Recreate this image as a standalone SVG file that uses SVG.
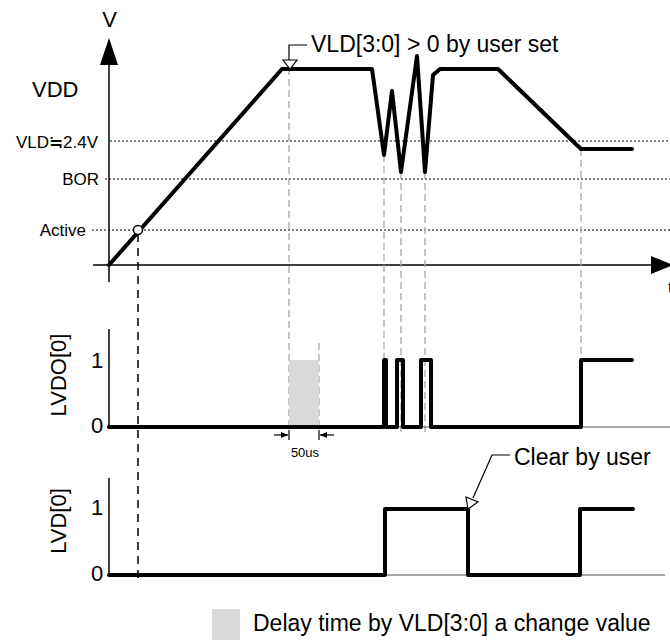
<svg xmlns="http://www.w3.org/2000/svg" width="670" height="640" viewBox="0 0 670 640">
<style>
text{font-family:"Liberation Sans",Arial,sans-serif;fill:#000}
.ax{stroke:#000;stroke-width:1.5;fill:none}
.thin{stroke:#555;stroke-width:1.2;fill:none}
.dot{stroke:#000;stroke-width:1.2;stroke-dasharray:2,2;fill:none}
.gd{stroke:#a6a6a6;stroke-width:1.3;stroke-dasharray:7,4;fill:none}
.bd{stroke:#000;stroke-width:1.5;stroke-dasharray:8,6;fill:none}
.w{stroke:#000;stroke-width:4;fill:none;stroke-linejoin:round;stroke-linecap:round}
.lbl{font-size:22px}
.big{font-size:23px}
.sm{font-size:17px}
</style>
<defs>
<marker id="sa" markerWidth="8" markerHeight="8" refX="7" refY="4" orient="auto" markerUnits="userSpaceOnUse"><path d="M0,1 L7,4 L0,7 Z" fill="#000"/></marker>
</defs>
<g id="top-axes">
<line class="ax" x1="109" y1="60" x2="109" y2="282"/>
<polygon points="109,38 100,65 118,65" fill="#000"/>
<line class="ax" x1="93" y1="265" x2="655" y2="265"/>
<polygon points="673,265 651,256 651,274" fill="#000"/>
<text class="lbl" x="109.5" y="27" text-anchor="middle">V</text>
<text x="668" y="293" font-size="17">t</text>
<text class="lbl" x="32" y="97">VDD</text>
</g>
<g id="levels">
<line class="dot" x1="110" y1="141" x2="670" y2="141"/>
<line class="dot" x1="105" y1="179" x2="670" y2="179"/>
<line class="dot" x1="92" y1="230" x2="670" y2="230"/>
<text class="sm" x="98" y="148" text-anchor="end">VLD≒2.4V</text>
<text class="sm" x="99" y="185" text-anchor="end">BOR</text>
<text class="sm" x="86" y="236" text-anchor="end">Active</text>
</g>
<g id="connectors">
<line class="bd" x1="138" y1="234" x2="138" y2="578"/>
<line class="gd" x1="289" y1="68" x2="289" y2="427"/>
<line class="gd" x1="319" y1="343" x2="319" y2="427"/>
<line class="gd" x1="384" y1="155" x2="384" y2="360"/>
<line class="gd" x1="401" y1="172" x2="401" y2="433"/>
<line class="gd" x1="425" y1="172" x2="425" y2="433"/>
<line class="gd" x1="581" y1="149" x2="581" y2="360"/>
</g>
<g id="vdd-wave">
<polyline class="w" points="109,265 282,69 372,69 384,155 392,91 401,172 417,56 425,172 433,75 440,69 498,69 581,149 632,149"/>
<circle cx="138" cy="230" r="4.5" fill="#fff" stroke="#000" stroke-width="1.5"/>
</g>
<g id="vld-set-callout">
<polyline points="289,60 289,45 307,45" fill="none" stroke="#000" stroke-width="1.2"/>
<polygon points="283,60 297,60 290,69" fill="#fff" stroke="#000" stroke-width="1.2"/>
<text class="big" x="311" y="52">VLD[3:0] &gt; 0 by user set</text>
</g>
<g id="lvdo">
<line class="ax" x1="109" y1="329" x2="109" y2="427"/>
<line class="thin" x1="109" y1="427" x2="670" y2="427"/>
<rect x="289" y="360" width="30" height="67" fill="#d9d9d9"/>
<polyline class="w" points="109,427 384,427 384,360 386,360 386,427 397,427 397,360 403,360 403,427 421,427 421,360 431,360 431,427 581,427 581,360 632,360"/>
<text class="lbl" x="97" y="368" text-anchor="middle">1</text>
<text class="lbl" x="97" y="433" text-anchor="middle">0</text>
<text class="lbl" transform="translate(66,375) rotate(-90)" text-anchor="middle">LVDO[0]</text>
<line x1="274" y1="435" x2="288" y2="435" stroke="#000" stroke-width="1.2" marker-end="url(#sa)"/>
<line x1="289" y1="430" x2="289" y2="440" stroke="#000" stroke-width="1.2"/>
<line x1="334" y1="435" x2="320" y2="435" stroke="#000" stroke-width="1.2" marker-end="url(#sa)"/>
<line x1="319" y1="430" x2="319" y2="440" stroke="#000" stroke-width="1.2"/>
<text x="305" y="457" font-size="13" text-anchor="middle">50us</text>
</g>
<g id="lvd">
<line class="ax" x1="109" y1="478" x2="109" y2="575"/>
<line class="thin" x1="109" y1="575" x2="665" y2="575"/>
<polyline class="w" points="109,575 385,575 385,509 468,509 468,575 580,575 580,509 633,509"/>
<text class="lbl" x="97" y="515" text-anchor="middle">1</text>
<text class="lbl" x="97" y="581" text-anchor="middle">0</text>
<text class="lbl" transform="translate(66,521) rotate(-90)" text-anchor="middle">LVD[0]</text>
</g>
<g id="clear-callout">
<polyline points="510,455 492,455 473,498" fill="none" stroke="#000" stroke-width="1.2"/>
<polygon points="466,497 478,502 468,509" fill="#fff" stroke="#000" stroke-width="1.2"/>
<text class="big" x="514" y="465">Clear by user</text>
</g>
<g id="legend">
<rect x="212" y="609" width="28" height="31" fill="#d9d9d9"/>
<text x="253" y="631" font-size="23">Delay time by VLD[3:0] a change value</text>
</g>
</svg>
